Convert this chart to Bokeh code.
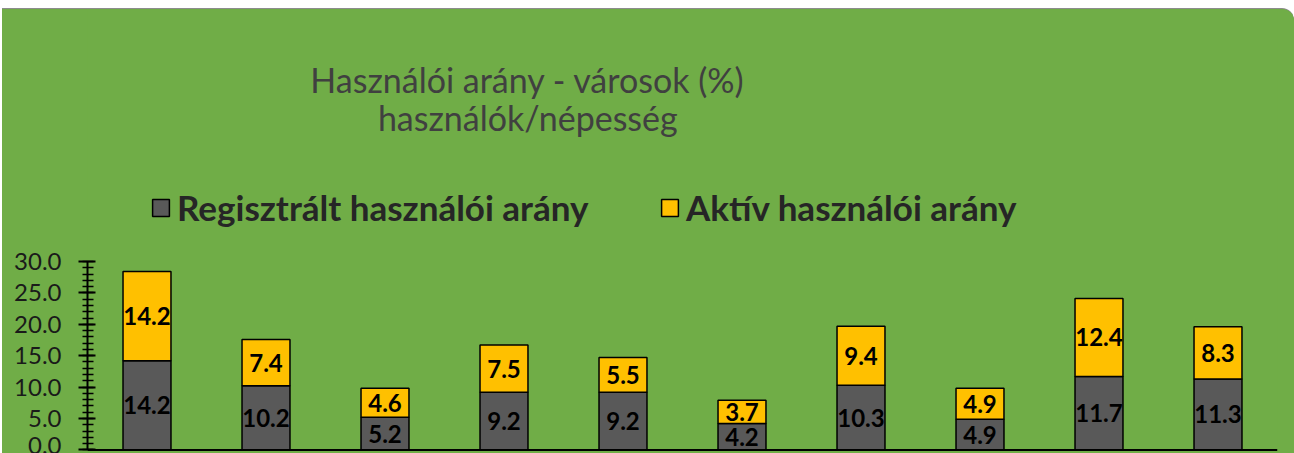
from bokeh.plotting import figure
from bokeh.models import (ColumnDataSource, Range1d, FixedTicker, NumeralTickFormatter,
                          Label, Legend, LegendItem, Span)
from bokeh.core.properties import value
from bokeh.embed import file_html
from bokeh.resources import INLINE

# ---- data ----
positions = list(range(10))  # city categories (names not visible in the chart)
registered = [14.2, 10.2, 5.2, 9.2, 9.2, 4.2, 10.3, 4.9, 11.7, 11.3]
active = [14.2, 7.4, 4.6, 7.5, 5.5, 3.7, 9.4, 4.9, 12.4, 8.3]
series_names = ["Regisztrált használói arány", "Aktív használói arány"]
title_lines = ["Használói arány - városok (%)", "használók/népesség"]
y_ticks = [0, 5, 10, 15, 20, 25, 30]
y_minor_ticks = list(range(0, 31))

GREEN = "#70AD47"
GRAY = "#595959"
YELLOW = "#FFC000"
FONT = "Lato"

src = ColumnDataSource(dict(
    x=positions,
    reg=registered,
    act=active,
    reg_mid=[r / 2 for r in registered],
    act_mid=[r + a / 2 for r, a in zip(registered, active)],
    reg_txt=[f"{r:.1f}" for r in registered],
    act_txt=[f"{a:.1f}" for a in active],
))

p = figure(width=1292, height=444,
           x_range=Range1d(-0.5, 9.5), y_range=Range1d(-0.573, 70.13),
           output_backend="svg", toolbar_location=None,
           x_axis_location=None,
           min_border_left=85, min_border_right=17, min_border_top=0, min_border_bottom=0,
           background_fill_color=GREEN, background_fill_alpha=0,
           border_fill_color=GREEN, outline_line_color=None)
p.margin = (9, 0, 0, 2)
p.styles = {"box-shadow": "0px -1px 0px #8c8c8c",
            "border-top-right-radius": "12px", "overflow": "hidden",
            "background-color": GREEN}
p.grid.visible = False

renderers = p.vbar_stack(["reg", "act"], x="x", width=0.403, source=src,
                         color=[GRAY, YELLOW], line_color="black", line_width=1.5)

for ycol, tcol in (("reg_mid", "reg_txt"), ("act_mid", "act_txt")):
    p.text(x="x", y=ycol, text=tcol, source=src, text_align="center",
           text_baseline="middle", text_font=value(FONT), text_font_style="bold",
           text_font_size="24px", text_color="black")

# y axis
ax = p.yaxis[0]
ax.ticker = FixedTicker(ticks=y_ticks, minor_ticks=y_minor_ticks)
ax.formatter = NumeralTickFormatter(format="0.0")
ax.bounds = (0, 30)
ax.axis_line_color = "black"
ax.axis_line_width = 2
ax.major_tick_line_color = "black"
ax.major_tick_line_width = 2
ax.major_tick_in = 8
ax.major_tick_out = 9
ax.minor_tick_line_color = "black"
ax.minor_tick_line_width = 1.5
ax.minor_tick_in = 6
ax.minor_tick_out = 5
ax.major_label_standoff = 17
ax.major_label_text_font = FONT
ax.major_label_text_font_size = "24px"
ax.major_label_text_color = "#1a1a1a"

# x baseline
p.add_layout(Span(location=0, dimension="width", line_color="black", line_width=2))

# title
for txt, yy in zip(title_lines, (58.95, 52.9)):
    p.add_layout(Label(x=3.2, y=yy, text=txt, text_align="center",
                       text_baseline="alphabetic", text_font=FONT,
                       text_font_size="34px", text_color="#404040"))

# legends
for name, r, loc in zip(series_names, renderers, ((63, 225), (572, 225))):
    lg = Legend(items=[LegendItem(label=name, renderers=[r])], location=loc,
                orientation="horizontal", glyph_width=21, glyph_height=21,
                label_standoff=6, padding=0, margin=0, spacing=0,
                background_fill_alpha=0, border_line_color=None,
                label_text_font=FONT, label_text_font_style="bold",
                label_text_font_size="35px", label_text_color="#262626")
    p.add_layout(lg)

open("out.html", "w").write(file_html(p, INLINE))
